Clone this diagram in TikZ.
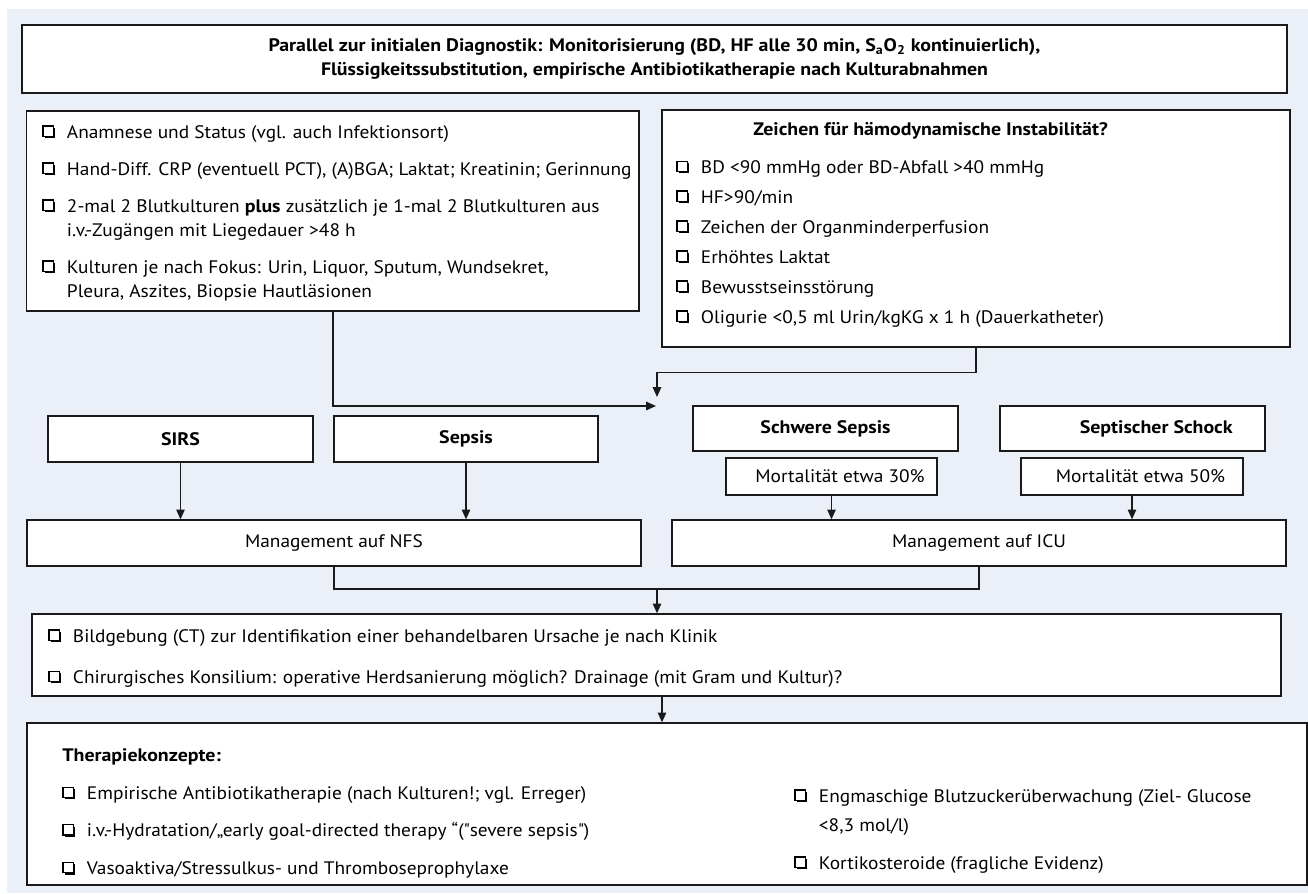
\documentclass[tikz,border=0pt]{standalone}
\usepackage{fontspec}
\setmainfont{PT Sans}[FakeStretch=1.07, BoldFeatures={FakeStretch=1.1}]
\usepackage{tikz}
\usetikzlibrary{positioning,calc,arrows.meta}

\definecolor{bgblue}{HTML}{EBF0F8}
\definecolor{lineblack}{HTML}{1A1A1A}

% shadowed check box in front of each list item
\newcommand{\chk}{\makebox[14pt][l]{\tikz[baseline=0pt]{\fill[black] (1.1pt,0pt) rectangle (7pt,5.9pt); \filldraw[fill=white,draw=black,line width=0.7pt] (0,1.1pt) rectangle (5.9pt,7pt);}}}
\newcommand{\hang}{\hspace*{14pt}}

\begin{document}
\begin{tikzpicture}[
    box/.style={draw=lineblack, line width=0.75pt, fill=white, inner sep=0pt,
                font=\fontsize{10.3}{13.66}\selectfont},
    listtxt/.style={inner sep=0pt, align=left, anchor=north west,
                font=\fontsize{10.3}{13.66}\selectfont},
    arr/.style={-{Triangle[length=5.6pt,width=4.8pt]}, line width=0.85pt, lineblack},
    link/.style={line width=0.85pt, lineblack}
]
    \useasboundingbox (0,0) rectangle (26.16,-17.86);
    % Background
    \fill[bgblue] (0.14,-0.18) rectangle (26.16,-17.86);

    % Top banner
    \node[box, minimum width=25.30cm, minimum height=1.36cm, align=center] (top) at (13.09,-1.18)
        {\textbf{Parallel zur initialen Diagnostik: Monitorisierung (BD, HF alle 30 min, S\textsubscript{a}O\textsubscript{2} kontinuierlich),}\\
         \textbf{Flüssigkeitssubstitution, empirische Antibiotikatherapie nach Kulturabnahmen}};

    % Diagnostics
    \node[box, minimum width=12.25cm, minimum height=4.0cm] (diag) at (6.655,-4.22) {};
    \node[listtxt] (diagtxt) at (0.84,-2.424)
        {\strut\chk Anamnese und Status (vgl. auch Infektionsort)\\[7.4pt]
         \chk Hand-Diff. CRP (eventuell PCT), (A)BGA; Laktat; Kreatinin; Gerinnung\\[7.4pt]
         \chk 2-mal 2 Blutkulturen \textbf{plus} zusätzlich je 1-mal 2 Blutkulturen aus\\
         \hang i.v.-Zugängen mit Liegedauer >48 h\\[7.4pt]
         \chk Kulturen je nach Fokus: Urin, Liquor, Sputum, Wundsekret,\\
         \hang Pleura, Aszites, Biopsie Hautläsionen};

    % Instability
    \node[box, minimum width=12.56cm, minimum height=4.74cm] (instab) at (19.52,-4.57) {};
    \node[listtxt] (instabtxt) at (13.52,-2.364)
        {\strut\hspace*{43.8pt}\textbf{Zeichen für hämodynamische Instabilität?}\\[8pt]
         \chk BD <90 mmHg oder BD-Abfall >40 mmHg\\[3.4pt]
         \chk HF>90/min\\[3.4pt]
         \chk Zeichen der Organminderperfusion\\[3.4pt]
         \chk Erhöhtes Laktat\\[3.4pt]
         \chk Bewusstseinsstörung\\[3.4pt]
         \chk Oligurie <0,5 ml Urin/kgKG x 1 h (Dauerkatheter)};

    \coordinate (joinL) at (13.12,-8.12);
    \coordinate (joinT) at (13.14,-7.94);
    \draw[arr] (diag.south) |- (joinL);
    \draw[arr] (instab.south) -- ++(0,-0.5) -| (joinT);

    % Stages
    \node[box, minimum width=5.30cm, minimum height=0.92cm] (sirs) at (3.61,-8.78) {\textbf{SIRS}};
    \node[box, minimum width=5.28cm, minimum height=0.92cm] (sepsis) at (9.32,-8.78) {\textbf{Sepsis}};
    \node[box, minimum width=5.30cm, minimum height=0.90cm] (schwer) at (16.51,-8.57) {\textbf{Schwere Sepsis}};
    \node[box, minimum width=5.30cm, minimum height=0.90cm] (schock) at (22.65,-8.57) {\hspace*{27pt}\textbf{Septischer Schock}};
    \node[box, minimum width=4.22cm, minimum height=0.74cm] (mort30) at (16.63,-9.53) {\hspace*{9.7pt}Mortalität etwa 30\%};
    \node[box, minimum width=4.44cm, minimum height=0.74cm] (mort50) at (22.64,-9.53) {\hspace*{9.7pt}Mortalität etwa 50\%};

    % Management
    \node[box, minimum width=12.28cm, minimum height=0.92cm] (nfs) at (6.68,-10.86) {Management auf NFS};
    \node[box, minimum width=12.28cm, minimum height=0.92cm] (icu) at (19.58,-10.86) {Management auf ICU};

    \draw[arr] (sirs) -- (sirs |- nfs.north);
    \draw[arr] (sepsis) -- (sepsis |- nfs.north);
    \draw[arr] (mort30) -- (mort30 |- icu.north);
    \draw[arr] (mort50) -- (mort50 |- icu.north);

    % Imaging / surgery
    \node[box, minimum width=24.98cm, minimum height=1.64cm] (bild) at (13.13,-13.10) {};
    \node[listtxt] (bildtxt) at (0.96,-12.504)
        {\strut\chk Bildgebung (CT) zur Identifikation einer behandelbaren Ursache je nach Klinik\\[9.7pt]
         \chk Chirurgisches Konsilium: operative Herdsanierung möglich? Drainage (mit Gram und Kultur)?};

    \coordinate (m2) at (13.14,-11.78);
    \draw[link] (nfs.south) |- (m2);
    \draw[link] (icu.south) |- (m2);
    \draw[arr] (m2) -- (m2 |- bild.north);

    % Therapy
    \node[box, minimum width=25.60cm, minimum height=3.24cm] (ther) at (13.34,-16.08) {};
    \node[listtxt] (therL) at (1.24,-14.884)
        {\strut\textbf{Therapiekonzepte:}\\[8pt]
         \chk Empirische Antibiotikatherapie (nach Kulturen!; vgl. Erreger)\\[7.7pt]
         \chk i.v.-Hydratation/„early goal-directed therapy “(\textquotedbl severe sepsis\textquotedbl)\\[7.7pt]
         \chk Vasoaktiva/Stressulkus- und Thromboseprophylaxe};
    \node[listtxt] (therR) at (15.88,-15.704)
        {\strut\chk Engmaschige Blutzuckerüberwachung (Ziel- Glucose\\[2.8pt]
         \hang <8,3 mol/l)\\[8pt]
         \chk Kortikosteroide (fragliche Evidenz)};

    \coordinate (b2) at (13.24,-13.92);
    \draw[arr] (b2) -- (b2 |- ther.north);

\end{tikzpicture}
\end{document}
